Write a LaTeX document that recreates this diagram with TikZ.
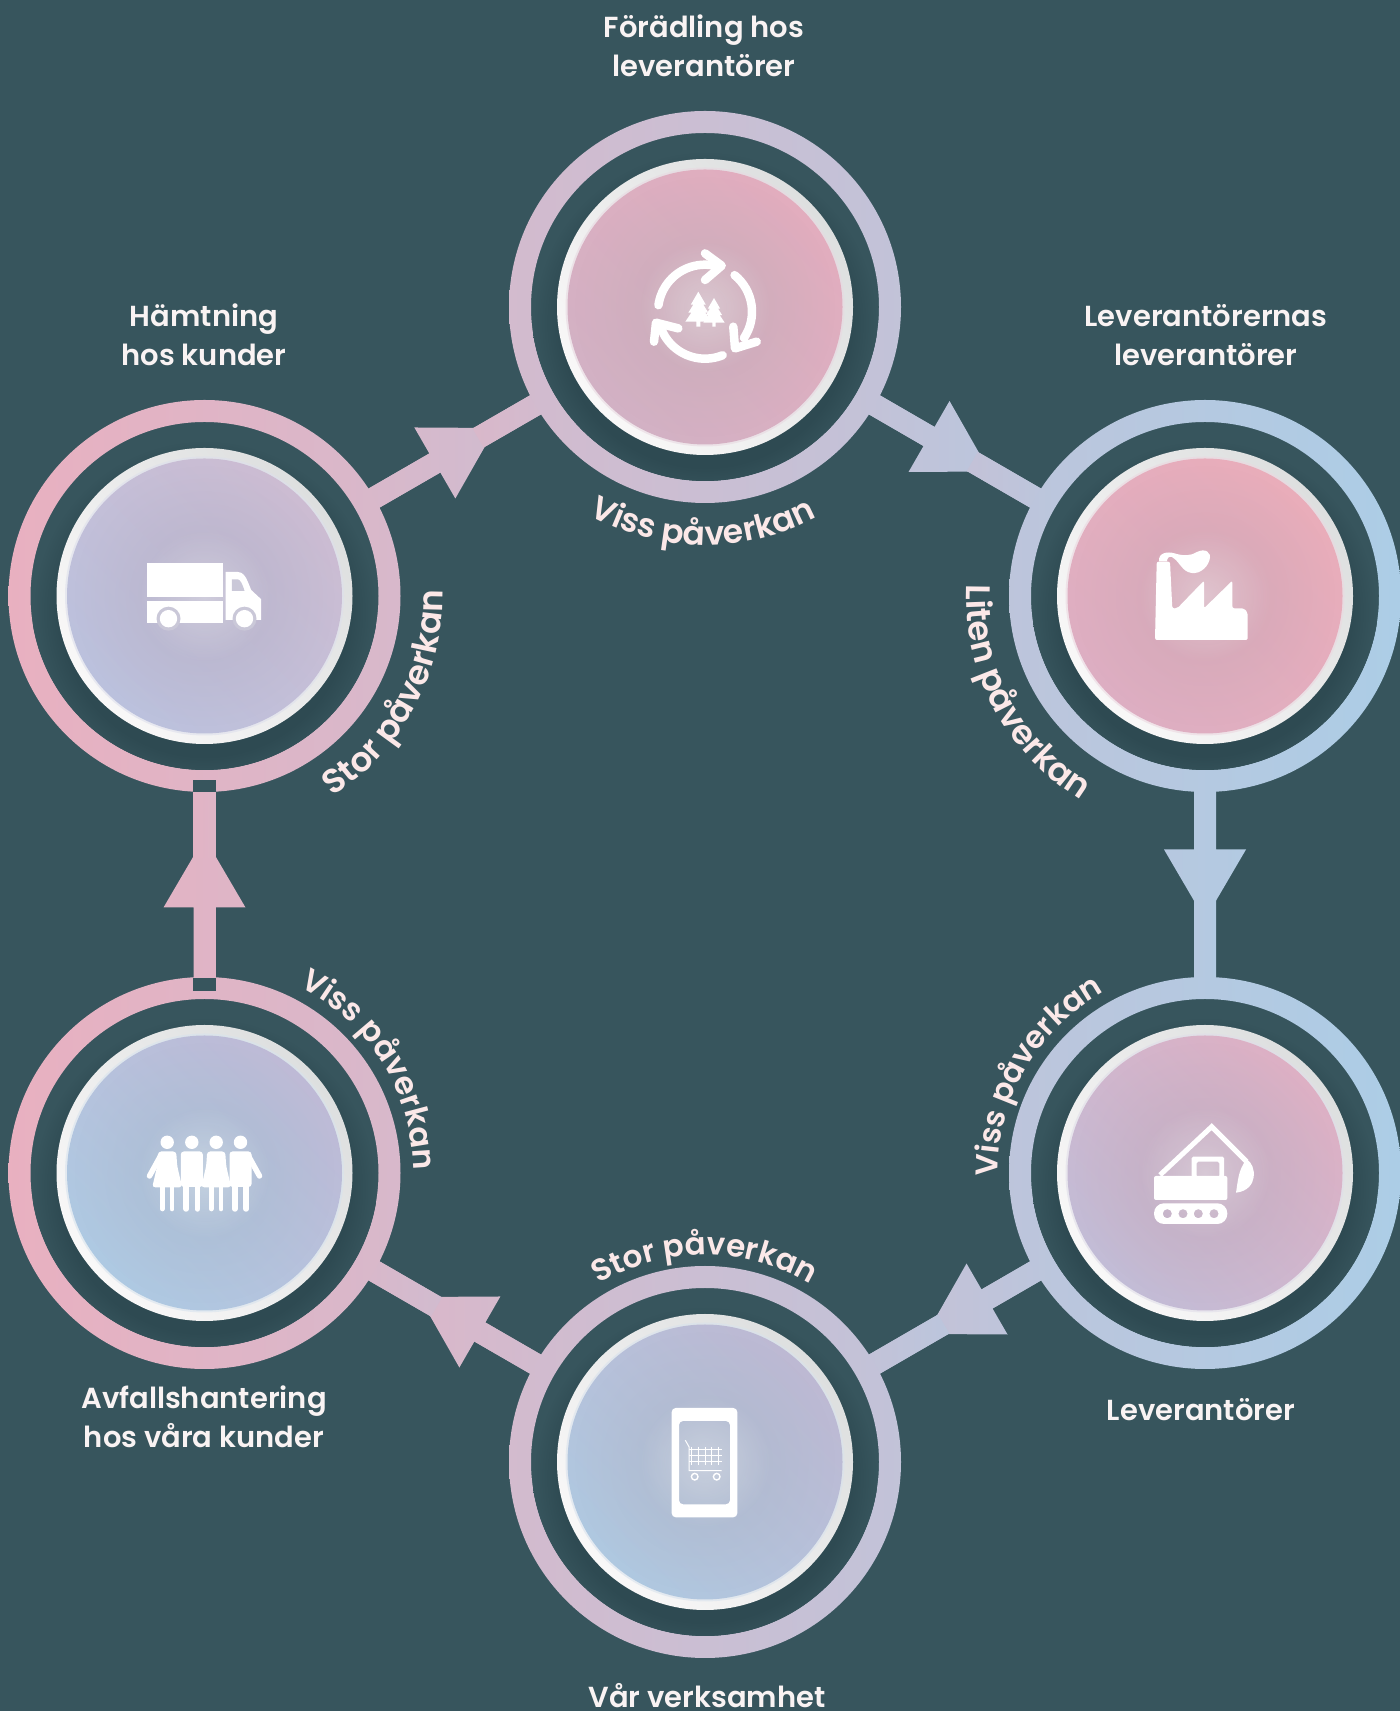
\documentclass[tikz,border=0pt]{standalone}
\usepackage{fontspec}
\usetikzlibrary{calc,fadings,decorations.text}
\newfontfamily\labfont{Poppins SemiBold}
\definecolor{bgc}{HTML}{37555D}
\definecolor{shadowc}{HTML}{2E4A52}
\definecolor{gL}{HTML}{E9B0C0}
\definecolor{gR}{HTML}{ACCDE6}
\definecolor{labelc}{HTML}{F9F3F3}
\definecolor{curvec}{HTML}{FBE8E8}
\definecolor{rimT}{HTML}{DDDFDF}
\definecolor{rimB}{HTML}{F9F8F8}
\tikzfading[name=soft, inner color=transparent!20, outer color=transparent!100]
\pgfdeclareradialshading{discshadow}{\pgfpoint{0bp}{0bp}}{color(0bp)=(shadowc); color(21bp)=(shadowc); color(25bp)=(bgc); color(50bp)=(bgc)}
\tikzset{
  hub/.style={circle,minimum size=370pt,inner sep=0pt,outer sep=0pt},
  mainlabel/.style={text=labelc,align=center,font=\fontsize{29}{39}\labfont,inner sep=0pt},
  flowline/.style={line width=22pt},
  curved/.style 2 args={decorate,decoration={text along path,text align={align=center},text color=curvec,
     text={|\fontsize{#1}{#1}\labfont|#2}}},
}
\newcommand{\gradcol}[2]{\pgfmathsetmacro\gradp{(1400-(#2))/14}\colorlet{#1}{gL!\gradp!gR}}
% \flowarrow{from}{to}{angle}{base}{tip}{xmin}{xmax}
\newcommand{\flowarrow}[7]{%
  \gradcol{flL}{#6}\gradcol{flR}{#7}\colorlet{flM}{flL!50!flR}%
  \draw[flowline,draw=flM] (#1) -- (#2);
  \coordinate (fm) at ($(#1)!.5!(#2)$);
  \shade[left color=flL,right color=flR]
    ($(#1)+(#3:184pt)+(#3+90:11pt)$) --
    ($(fm)+(#3:#4pt)+(#3+90:11pt)$) --
    ($(fm)+(#3:#4pt)+(#3+90:41pt)$) --
    ($(fm)+(#3:#5pt)$) --
    ($(fm)+(#3:#4pt)+(#3-90:41pt)$) --
    ($(fm)+(#3:#4pt)+(#3-90:11pt)$) --
    ($(#1)+(#3:184pt)+(#3-90:11pt)$) -- cycle;
  \shade[left color=flL,right color=flR]
    ($(fm)+(#3:#5pt-20pt)+(#3+90:11pt)$) --
    ($(#2)+(#3+180:184pt)+(#3+90:11pt)$) --
    ($(#2)+(#3+180:184pt)+(#3-90:11pt)$) --
    ($(fm)+(#3:#5pt-20pt)+(#3-90:11pt)$) -- cycle;
}
\newcommand{\ring}[2]{%
  \gradcol{rL}{#2-196}\gradcol{rR}{#2+196}%
  \shade[left color=rL,right color=rR,even odd rule] (#1) circle (196pt) (#1) circle (174pt);
}
% \discbody{node}{topright}{bottomleft}{centre}
\newcommand{\discbody}[4]{%
  \begin{scope}
    \clip (#1) circle (174pt);
    \shade[shading=discshadow] ($(#1)+(0,-16pt)$) circle (172pt);
  \end{scope}
  \shade[top color=rimT,bottom color=rimB,shading angle=-50] (#1) circle (148pt);
  \fill[#3!45!rimB,opacity=.6] (#1) circle (139.5pt);
  \shade[top color=#2,bottom color=#3,shading angle=-45] (#1) circle (137.5pt);
  \fill[#4,path fading=soft] (#1) circle (130pt);
  \fill[white,path fading=soft,fill opacity=.42] (#1) circle (66pt);
}
\definecolor{d1a}{HTML}{E2ADBE}\definecolor{d1b}{HTML}{D2B1C4}\definecolor{d1c}{HTML}{C4ACB8}
\definecolor{d2a}{HTML}{E9ADBA}\definecolor{d2b}{HTML}{DDAEC2}\definecolor{d2c}{HTML}{CCA6B5}
\definecolor{d3a}{HTML}{DDB0C4}\definecolor{d3b}{HTML}{C2BCD6}\definecolor{d3c}{HTML}{C0ABBE}
\definecolor{d4a}{HTML}{BDB9D3}\definecolor{d4b}{HTML}{AFC8E0}\definecolor{d4c}{HTML}{ACB7CA}
\definecolor{d5a}{HTML}{BEBAD6}\definecolor{d5b}{HTML}{AEC9E2}\definecolor{d5c}{HTML}{A6BBD0}
\definecolor{d6a}{HTML}{CCBCD2}\definecolor{d6b}{HTML}{BBC1DD}\definecolor{d6c}{HTML}{B4B0C7}
\begin{document}
\begin{tikzpicture}[x=1pt,y=1pt]
\useasboundingbox (0,0) rectangle (1400,1711);
\fill[bgc] (0,0) rectangle (1400,1711);
\node[hub] (n1) at (705,1404) {};
\node[hub] (n2) at (1205,1115) {};
\node[hub] (n3) at (1205,538) {};
\node[hub] (n4) at (705,249) {};
\node[hub] (n5) at (204.5,538) {};
\node[hub] (n6) at (204.5,1115) {};
% connectors
\flowarrow{n6}{n1}{30}{-23}{47}{360}{550}
\flowarrow{n1}{n2}{-30}{-30}{40}{860}{1050}
\flowarrow{n2}{n3}{-90}{-35}{35}{1164}{1246}
\flowarrow{n3}{n4}{210}{-37}{33}{860}{1050}
\flowarrow{n4}{n5}{150}{-29}{41}{360}{550}
\flowarrow{n5}{n6}{90}{-23}{47}{163}{246}
% rings
\ring{n1}{705}\ring{n2}{1205}\ring{n3}{1205}\ring{n4}{705}\ring{n5}{204.5}\ring{n6}{204.5}
% notches of the left connector
\fill[bgc] (193.3,931) rectangle (215.7,919.3);
\fill[bgc] (193.3,732.7) rectangle (215.7,720.3);
% discs
\discbody{n1}{d1a}{d1b}{d1c}
\discbody{n2}{d2a}{d2b}{d2c}
\discbody{n3}{d3a}{d3b}{d3c}
\discbody{n4}{d4a}{d4b}{d4c}
\discbody{n5}{d5a}{d5b}{d5c}
\discbody{n6}{d6a}{d6b}{d6c}
% recycling icon
\begin{scope}[shift={($(n1)+(0,-4.7pt)$)}]
  \begin{scope}[draw=white,line width=8.5pt,line cap=round,line join=round]
    \draw (172:47pt) arc[start angle=172,end angle=76,radius=47pt];
    \draw (0,58.3) -- (16.7,46) -- (0,31.7);
    \draw (51:47pt) arc[start angle=51,end angle=-34,radius=47pt];
    \draw (28.3,-15) -- (30,-36.7) -- (51.7,-30);
    \draw (-68:47pt) arc[start angle=-68,end angle=-160,radius=47pt];
    \draw (-26.7,-16.7) -- (-49,-11) -- (-51,-30);
  \end{scope}
  \foreach \tx/\ts in {-6.7/1,9/.82}{
    \fill[white,shift={(\tx,-15)},scale=\ts] (-2,0)--(-2,5)--(-13,5)--(-7,14)--(-10,14)--(-5,22)--(-7.5,22)--(0,35)--(7.5,22)--(5,22)--(10,14)--(7,14)--(13,5)--(2,5)--(2,0)--cycle;
  }
\end{scope}
% factory icon
\begin{scope}[shift={(n2)}]
  \fill[white,rounded corners=2pt] (-50,-44) -- (-48.3,34.3) -- (-35,34.3) -- (-32.7,-12.3) -- (-27.7,-12.3) -- (-1,15.3) -- (-1,-12.3) -- (27.3,15.3) -- (27.3,-12.3) -- (39,-12.3) -- (42.7,-16.7) -- (42.7,-44) -- cycle;
  \fill[white] (-46,34.5) .. controls (-47,43) and (-38,45) .. (-30,42.5) .. controls (-22,40) and (-14,40) .. (-8,44) .. controls (0,48) and (7,44) .. (4.5,36) .. controls (2,27) and (-8,20) .. (-17,24) .. controls (-24,27) and (-27,36) .. (-33,39) .. controls (-36,40) and (-38,38) .. (-38,34.5) -- cycle;
\end{scope}
% excavator icon
\begin{scope}[shift={(n3)}]
  \draw[white,line width=5pt,line join=miter] (-45,-2) -- (6.7,46.3) -- (41.7,11.3);
  \fill[white,even odd rule,rounded corners=2pt] (-51,-27) rectangle (22.3,-3);
  \fill[white,even odd rule,rounded corners=1.5pt] (-13.3,-4) rectangle (19,16.3) (-8.3,-4) rectangle (14.3,11.3);
  \fill[white] (41.7,13.7) .. controls (51.7,8) and (54,-17) .. (31,-19.7) .. controls (33,-8) and (33,3) .. cycle;
  \fill[white,even odd rule] [rounded corners=10pt] (-51,-51) rectangle (22.3,-30.3)
     [sharp corners] (-37.7,-40.7) circle (4.6pt) (-22,-40.7) circle (4.6pt) (-6.7,-40.7) circle (4.6pt) (9,-40.7) circle (4.6pt);
\end{scope}
% phone icon
\begin{scope}[shift={(n4)}]
  \fill[white,even odd rule,rounded corners=4pt] (-33.3,-55.3) rectangle (32.3,54) (-26,-42.3) rectangle (25,41);
  \draw[white,line width=1pt] (-19.7,21.7) -- (-16,15.3) -- (-16,-8.7) -- (16.5,-8.7);
  \draw[white,line width=1pt] (-16,-3) grid[xstep=6.67,ystep=6.1] (17.3,15.3);
  \draw[white,line width=1.4pt] (-10.3,-14.7) circle (3.3pt) (11.7,-14.7) circle (3.3pt);
\end{scope}
% people icon
\begin{scope}[shift={(n5)}]
  \foreach \hx in {-37.3,-12.7,11.7,36}{\fill[white] (\hx,30.7) circle (6.7pt);}
  \foreach \hx in {-37.3,11.7}{
    \begin{scope}[shift={(\hx,0)}]
      \fill[white,rounded corners=3pt] (-9,21.5) -- (9,21.5) -- (10,7) -- (15,-14.3) -- (-15,-14.3) -- (-10,7) -- cycle;
      \draw[white,line width=4.7pt,line cap=round] (-4.9,-14) -- (-4.9,-36) (4.9,-14) -- (4.9,-36);
    \end{scope}
  }
  \draw[white,line width=5.5pt,line cap=round] (-44,17) -- (-55,-3);
  \foreach \hx in {-12.7,36}{
    \begin{scope}[shift={(\hx,0)}]
      \fill[white,rounded corners=3pt] (-11,21.5) rectangle (11,-14);
      \draw[white,line width=5.5pt,line cap=round] (-5.6,-14) -- (-5.6,-36) (5.6,-14) -- (5.6,-36);
    \end{scope}
  }
  \draw[white,line width=5.5pt,line cap=round] (44,17) -- (55,-3);
\end{scope}
% truck icon
\begin{scope}[shift={(n6)}]
  \fill[white] (-58,-1.3) rectangle (18.3,33);
  \fill[white] (-58,-26.7) rectangle (18.3,-4.7);
  \fill[white] (21,-24) -- (21,24) -- (33.3,24) .. controls (38,24) and (41,20) .. (43.3,14.3) -- (46.7,6) -- (56.7,-3.3) -- (56.7,-24) -- cycle;
  \fill[d6c!70!white] (27.3,5) -- (27.3,16.7) -- (33.3,16.7) .. controls (36,16) and (38,12) .. (40,5) -- cycle;
  \foreach \wx in {-36,40}{
    \fill[d6c!70!white] (\wx,-22.7) circle (12pt);
    \fill[white] (\wx,-22.7) circle (8.7pt);
  }
\end{scope}
% labels
\node[mainlabel] (t1) at (704,1665) {Förädling hos\\leverantörer};
\node[mainlabel] (t2) at (1206,1376) {Leverantörernas\\leverantörer};
\node[mainlabel] (t3) at (1201,301) {Leverantörer};
\node[mainlabel] (t4) at (707,15) {Vår verksamhet};
\node[mainlabel] (t5) at (204,294) {Avfallshantering\\hos våra kunder};
\node[mainlabel] (t6) at (204,1376) {Hämtning\\hos kunder};
% impact labels
\path[curved={33}{Viss påverkan}] ($(n1)+(199.5:238pt)$) arc[start angle=199.5,end angle=339.5,radius=238pt];
\path[curved={31}{Stor påverkan}] ($(n4)+(160:207pt)$) arc[start angle=160,end angle=20,radius=207pt];
\path[curved={34}{Stor påverkan}] ($(n6)+(262:238pt)$) arc[start angle=262,end angle=402,radius=238pt];
\path[curved={34}{Liten påverkan}] ($(n2)+(138:239pt)$) arc[start angle=138,end angle=278,radius=239pt];
\path[curved={31}{Viss påverkan}] ($(n3)+(220:207pt)$) arc[start angle=220,end angle=80,radius=207pt];
\path[curved={31.5}{Viss påverkan}] ($(n5)+(102:209pt)$) arc[start angle=102,end angle=-38,radius=209pt];
\end{tikzpicture}
\end{document}
